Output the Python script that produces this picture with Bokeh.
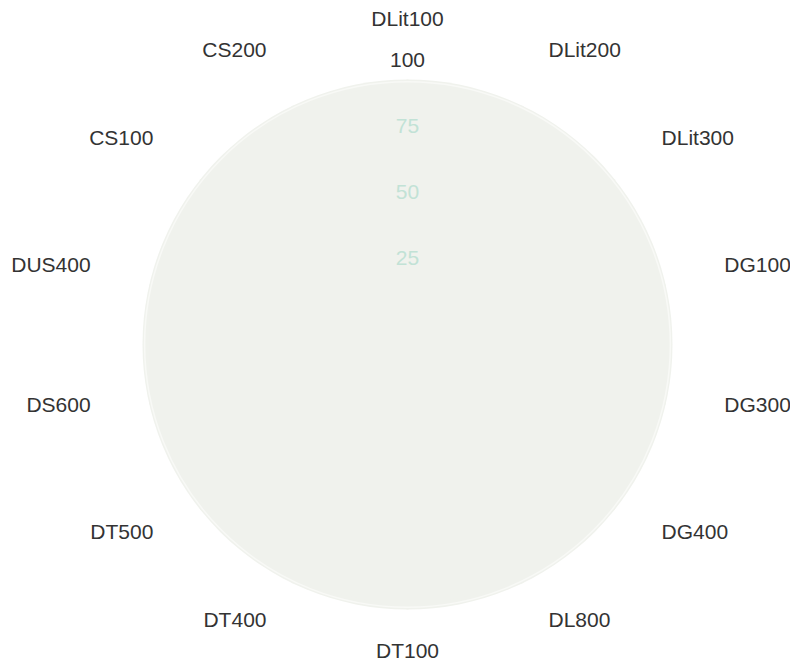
import numpy as np
from bokeh.plotting import figure
from bokeh.models import Range1d, ColumnDataSource
from bokeh.core.properties import value
from bokeh.embed import file_html
from bokeh.resources import INLINE

# ---- data ----
categories = ["DLit100", "DLit200", "DLit300", "DG100", "DG300", "DG400", "DL800",
              "DT100", "DT400", "DT500", "DS600", "DUS400", "CS100", "CS200"]
series_values = [100, 100, 100, 100, 100, 100, 100, 100, 100, 100, 100, 100, 100, 100]
radial_ticks = [25, 50, 75, 100]
radial_tick_labels = ["25", "50", "75", "100"]

# ---- layout ----
W, H = 790, 662
PX_PER_UNIT = 2.65          # pixels per value unit (100 -> 265 px)
CX, CY = 407, 344           # chart centre in figure pixels
FONT = "Liberation Sans"
FILL = "#f0f2ed"

p = figure(width=W, height=H, output_backend="svg", toolbar_location=None,
           x_range=Range1d(-CX / PX_PER_UNIT, (W - CX) / PX_PER_UNIT),
           y_range=Range1d(-(H - CY) / PX_PER_UNIT, CY / PX_PER_UNIT),
           min_border=0, outline_line_color=None)
p.axis.visible = False
p.grid.visible = False
p.background_fill_color = "white"
p.border_fill_color = "white"

n = len(categories)
theta = np.arange(n) * 2 * np.pi / n

# radar background disc (outer ring = 100)
rmax = max(radial_ticks)
p.circle(x=[0], y=[0], radius=[rmax], fill_color=FILL, line_color=None)

# series polygon
vals = np.array(series_values, dtype=float)
xs = vals * np.sin(theta)
ys = vals * np.cos(theta)
p.patch(x=list(xs), y=list(ys), fill_color=FILL, line_color=None)

# faint outer grid ring
p.circle(x=[0], y=[0], radius=[rmax - 0.8], fill_color=None,
         line_color="#f8f9f6", line_width=1.5)

# radial tick labels
tick_colors = ["#c2e2d6" if t < rmax else "#333333" for t in radial_ticks]
tsrc = ColumnDataSource(dict(x=[0] * len(radial_ticks), y=radial_ticks,
                             text=radial_tick_labels, color=tick_colors))
p.text(x="x", y="y", text="text", source=tsrc, text_color="color",
       text_font=value(FONT), text_font_size="21px",
       text_align="center", text_baseline="middle", y_offset=-20)

# category labels
RLX = 325 / PX_PER_UNIT
RLY = 316 / PX_PER_UNIT
lx = RLX * np.sin(theta)
ly = RLY * np.cos(theta)
aligns = ["left" if s > 0.2 else ("right" if s < -0.2 else "center") for s in np.sin(theta)]
csrc = ColumnDataSource(dict(x=list(lx), y=list(ly), text=categories, align=aligns))
p.text(x="x", y="y", text="text", source=csrc, text_align="align",
       text_color="#333333", text_font=value(FONT), text_font_size="21px",
       text_baseline="middle", y_offset=-10)

open("out.html", "w").write(file_html(p, INLINE))
